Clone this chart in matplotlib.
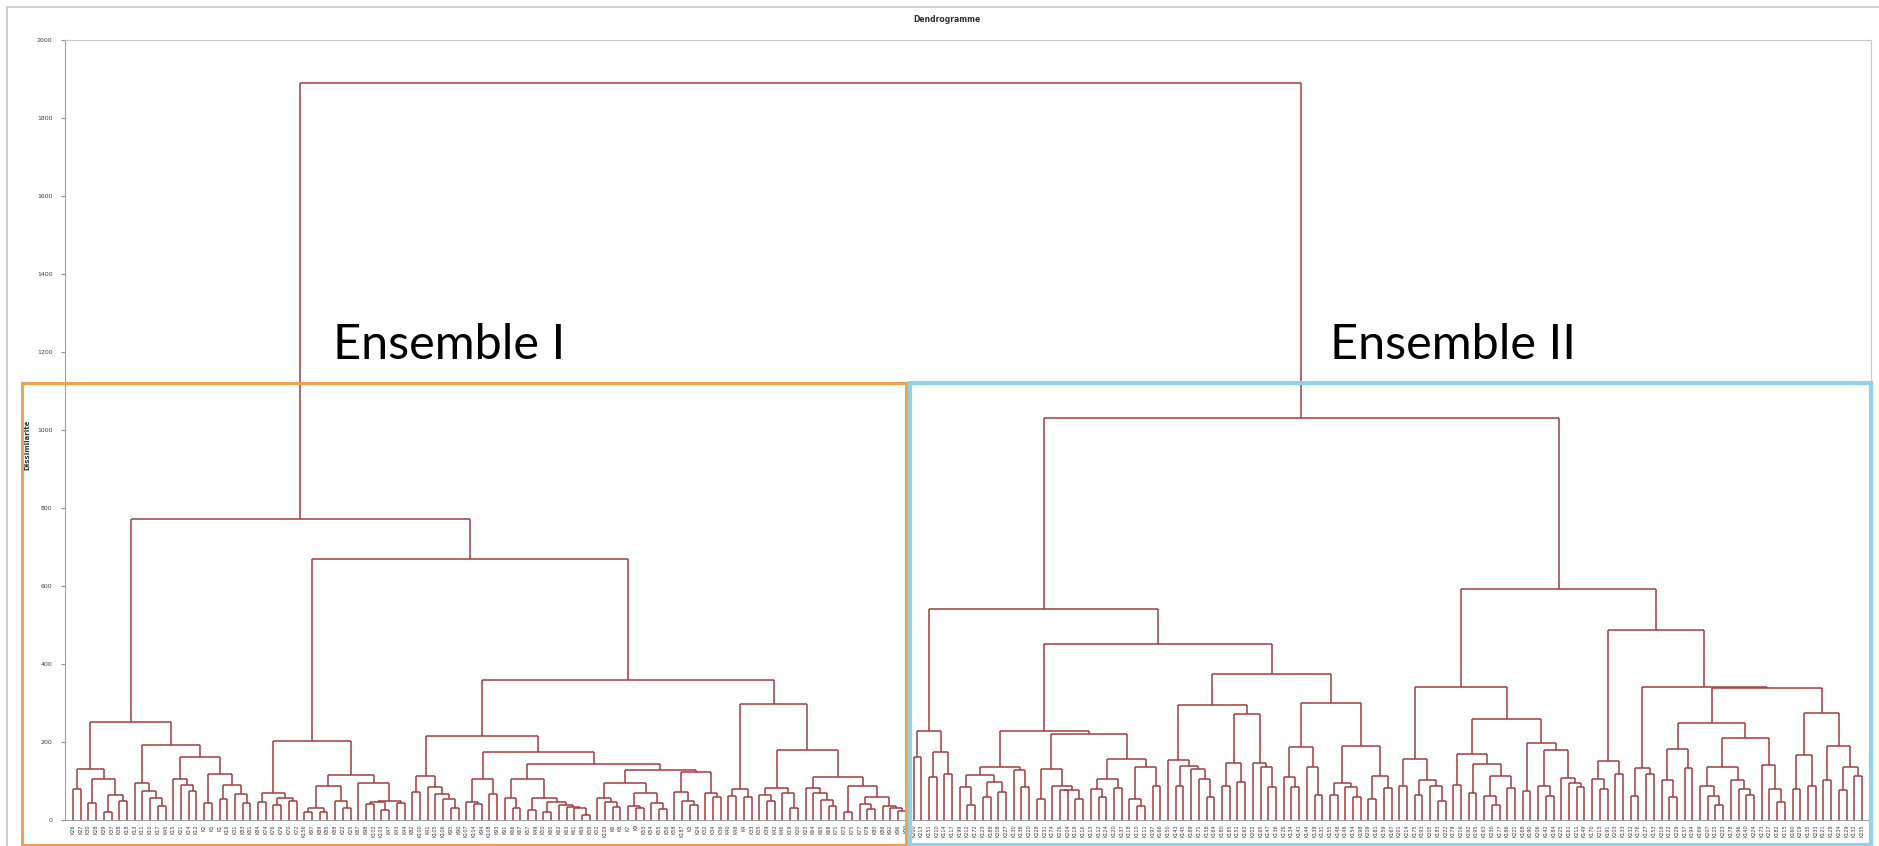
import re
import matplotlib
matplotlib.use('Agg')
import matplotlib.pyplot as plt
from matplotlib.patches import Rectangle

# tree pieces: "(" child child ")" + merge height, "." = one leaf
# --- Ensemble I ---
a1 = "((. .)79 ((. .)43 ((. .)21 (. .)49)63)104)130"
a2_left = "(. (. (. (. .)36)56)74)94"
a2_right = "((. (. (. .)74)91)105 ((. .)43 ((. .)53 (. (. .)43)66)91)119)162"
b1_left = "((. .)45 ((. .)38 (. .)50)56)70"
b1_right = "((((. .)20 (. .)20)32 (. (. .)31)50)87 (. (((. .)41 (. .)26)45 (. .)43)50)94)115"
b2a_left = "((. .)73 (. (. (. (. .)30)53)67)85)112"
b2a_r1 = "((. (. .)41)47 (. .)67)105"
b2a_r2a = "((. (. .)32)56 ((. .)26 ((. .)21 (. (. (. (. .)13)30)34)38)47)56)105"
b2a_r2b = ("(((. (. (. .)34)47)57 ((. (. .)30)36 (. (. .)27)43)70)94 "
           "((. (. (. .)38)50)73 (. (. .)58)70)123)127")
b2b_left = "((. .)62 (. .)58)80"
b2b_rl = "((. (. .)50)64 (. (. .)32)68)82"
b2b_rr = "((. (. (. (. .)36)52)70)81 ((. .)21 ((. (. .)28)41 (. (. (. .)22)30)36)60)87)111"

# --- Ensemble II ---
c1 = "((. .)161 ((. .)111 (. .)118)175)229"
c2a_left = "(((. (. .)38)84 ((. .)58 (. .)73)98)115 (. (. .)84)128)137"
c2a_rl = "((. .)54 (. ((. .)78 (. .)53)77)87)132"
c2a_rr = "(((. (. .)58)79 (. .)81)105 ((. (. .)36)53 (. .)87)137)157"
c2b1_l = "(. ((. .)87 (. (. (. .)60)104)130)139)154"
c2b1_r = "(((. .)87 (. .)98)147 (. (. (. .)84)135)147)271"
c2b2_l = "((. (. .)84)111 (. (. .)63)135)188"
c2b2_r = "(((. .)65 (. (. .)58)85)96 ((. .)55 (. .)82)114)190"
d1a = "((. .)87 ((. .)65 (. (. .)50)87)103)156"
d1b_l = "((. .)91 ((. .)70 ((. (. .)39)62 (. .)82)114)143)169"
d1b_r = "((. .)74 ((. (. .)62)87 (. (. (. .)85)96)108)179)197"
d2_left = "((. (. .)80)105 (. .)117)151"
d2r_a = "((. .)62 (. .)117)133"
d2r_x = "((. (. .)58)103 (. .)133)183"
d2r_y1 = "((. (. (. .)39)62)88 (. (. (. .)65)80)103)137"
d2r_y2 = "(. (. (. .)47)80)142"
d2r_b2 = "(((. .)80 (. .)87)166 ((. .)103 ((. .)76 (. .)114)137)190)274"

# upper merge heights
h_a2, h_a, h_b1, h_b2a_r2, h_b2a_r, h_b2a = 193, 252, 202, 144, 174, 215
h_b2b_r, h_b2b, h_b2, h_b, h_ens1 = 180, 298, 359, 669, 773
h_c2a_r, h_c2a, h_c2b1, h_c2b2, h_c2b, h_c2, h_c = 221, 229, 294, 301, 374, 451, 540
h_d1b, h_d1, h_d2r_y, h_d2r_b1, h_d2r_b, h_d2r, h_d2, h_d = 260, 340, 210, 248, 339, 341, 488, 592
h_ens2, h_root = 1031, 1890

labels_1 = ("26 27 30 28 29 37 38 18 13 11 10 17 45 15 21 14 12 2 5 1 16 31 83 81 "
            "84 74 76 79 70 72 156 97 89 85 88 22 25 87 98 102 103 47 43 44 "
            "82 100 41 105 106 95 90 107 104 94 108 93 91 66 67 57 49 50 60 62 63 61 69 59 52 109 "
            "6 8 7 9 53 54 55 56 58 187 3 24 32 34 36 "
            "40 48 4 33 35 39 42 46 19 20 23 64 65 68 71 73 75 77 78 80 86 92 96 99").split()
labels_2 = ("200 213 151 210 114 117 199 212 172 123 188 208 227 130 138 220 228 231 174 226 "
            "204 119 116 113 112 124 120 137 118 110 111 197 166 150 143 145 189 171 158 164 "
            "180 185 152 162 202 165 147 136 126 134 141 144 139 131 155 148 146 154 198 209 "
            "181 159 167 "
            "201 214 175 193 205 183 222 179 216 192 195 163 230 177 186 221 168 190 206 142 "
            "184 225 161 211 149 170 215 191 203 133 232 176 127 153 218 122 229 157 194 169 "
            "207 125 223 178 196 140 224 173 217 182 115 160 219 135 233 121 128 234 129 132 235").split()


def j(h, *parts):
    return "(" + " ".join(parts) + ")" + str(h)


ens1 = j(h_ens1,
         j(h_a, a1, j(h_a2, a2_left, a2_right)),
         j(h_b, j(h_b1, b1_left, b1_right),
           j(h_b2,
             j(h_b2a, b2a_left, j(h_b2a_r, b2a_r1, j(h_b2a_r2, b2a_r2a, b2a_r2b))),
             j(h_b2b, b2b_left, j(h_b2b_r, b2b_rl, b2b_rr)))))
ens2 = j(h_ens2,
         j(h_c, c1, j(h_c2, j(h_c2a, c2a_left, j(h_c2a_r, c2a_rl, c2a_rr)),
                     j(h_c2b, j(h_c2b1, c2b1_l, c2b1_r), j(h_c2b2, c2b2_l, c2b2_r)))),
         j(h_d, j(h_d1, d1a, j(h_d1b, d1b_l, d1b_r)),
           j(h_d2, d2_left,
             j(h_d2r, d2r_a,
               j(h_d2r_b, j(h_d2r_b1, d2r_x, j(h_d2r_y, d2r_y1, d2r_y2)), d2r_b2)))))
tree_str = j(h_root, ens1, ens2)


def parse(s):
    stack = [[]]
    for t in re.findall(r'\(|\)\d+|\.', s):
        if t == '(':
            stack.append([])
        elif t == '.':
            stack[-1].append(None)
        else:
            kids = stack.pop()
            stack[-1].append((float(t[1:]), kids))
    return stack[0][0]


W, H = 1879, 846
fig = plt.figure(figsize=(W / 100, H / 100), dpi=100)
fig.patch.set_facecolor('white')
ax_l, ax_r, ax_t, ax_b = 65, 1871, 40, 820
ax = fig.add_axes([ax_l / W, 1 - ax_b / H, (ax_r - ax_l) / W, (ax_b - ax_t) / H])

col = '#A33C3C'
count = [0]


def draw(node):
    if node is None:
        x = count[0]
        count[0] += 1
        return x, 0.0
    h, kids = node
    pts = [draw(k) for k in kids]
    for x, y in pts:
        ax.plot([x, x], [y, h], color=col, lw=1.1, solid_capstyle='butt')
    ax.plot([pts[0][0], pts[-1][0]], [h, h], color=col, lw=1.1, solid_capstyle='butt')
    return (pts[0][0] + pts[-1][0]) / 2, h


draw(parse(tree_str))
n = count[0]
labels = ["K" + s for s in labels_1 + labels_2]
labels = (labels + [""] * n)[:n]

step = (1862 - 73) / (n - 1)
ax.set_xlim(-(73 - ax_l) / step, (n - 1) + (ax_r - 1862) / step)
ax.set_ylim(0, 2000)
ax.set_yticks(range(0, 2001, 200))
ax.tick_params(axis='y', labelsize=4.5, labelcolor='#404040', color='#909090',
               length=3, direction='out', pad=6)
ax.set_xticks(range(n))
ax.set_xticklabels(labels, rotation=90, fontsize=3.5, color='#404040')
ax.tick_params(axis='x', length=0, pad=3)
for side in ['left', 'bottom']:
    ax.spines[side].set_color('#A0A0A0')
for side in ['top', 'right']:
    ax.spines[side].set_color('#C8C8C8')

fig.text(947 / W, 1 - 20 / H, "Dendrogramme", fontsize=5.5, fontweight='bold',
         ha='center', va='center', color='#303030')
fig.text(27 / W, 1 - 445 / H, "Dissimilarité", fontsize=5, fontweight='bold',
         rotation=90, ha='center', va='center', color='#303030')

# chart area border
fig.patches.append(Rectangle((7 / W, -0.1), 1.2, 1 - 7 / H + 0.1, transform=fig.transFigure,
                             fill=False, ec='#D0D0D0', lw=1.5, zorder=0))
# group boxes
fig.patches.append(Rectangle((22 / W, 1 - 845 / H), (906 - 22) / W, (845 - 383) / H,
                             transform=fig.transFigure, fill=False, ec='#F5A04F', lw=2.2, zorder=5))
fig.patches.append(Rectangle((910 / W, 1 - 845 / H), (1871 - 910) / W, (845 - 383) / H,
                             transform=fig.transFigure, fill=False, ec='#8DD3EA', lw=3, zorder=5))

fig.text(333 / W, 1 - 345 / H, "Ensemble I", fontsize=35, family='Lato',
         ha='left', va='center', color='black')
fig.text(1330 / W, 1 - 345 / H, "Ensemble II", fontsize=35, family='Lato',
         ha='left', va='center', color='black')

fig.savefig('out.png', dpi=100)
